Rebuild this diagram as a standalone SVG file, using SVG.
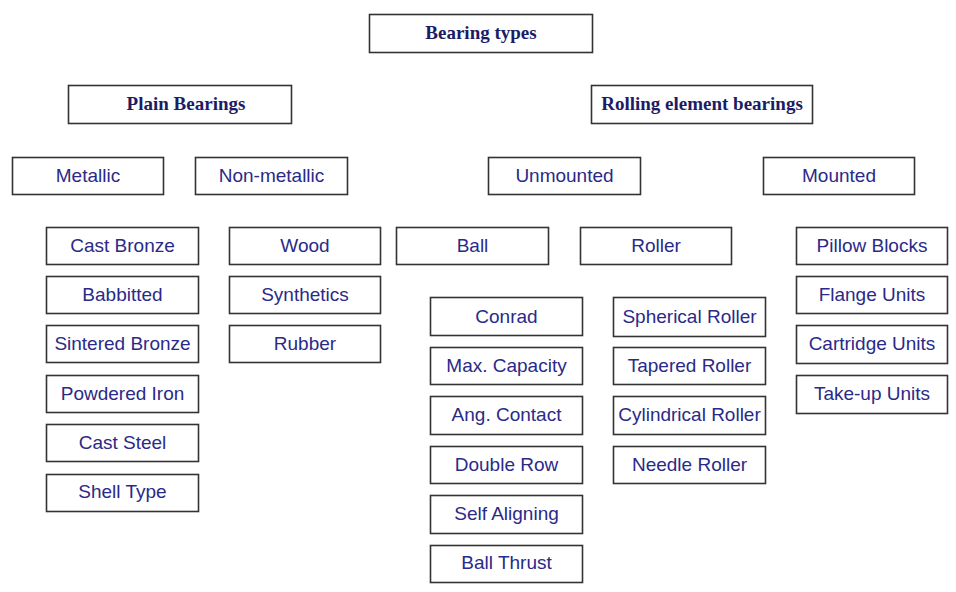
<svg xmlns="http://www.w3.org/2000/svg" width="956" height="592" viewBox="0 0 956 592">
<style>
rect{fill:#fff;stroke:#333;stroke-width:1.6}
.t{font-family:"Liberation Serif","Times New Roman",serif;font-weight:bold;font-size:19px;fill:#1c1c66;text-anchor:middle}
.n{font-family:"Liberation Sans",Arial,sans-serif;font-size:19px;fill:#2a2a88;text-anchor:middle}
</style>
<rect x="0" y="0" width="956" height="592" style="fill:#fff;stroke:none"/>
<g id="bearing-types"><rect x="369.5" y="14.5" width="223" height="38"/><text class="t" x="481" y="39">Bearing types</text></g>
<g id="plain-bearings"><rect x="68.5" y="85.5" width="223" height="38"/><text class="t" x="186" y="110">Plain Bearings</text></g>
<g id="rolling-element-bearings"><rect x="591.5" y="85.5" width="221" height="38"/><text class="t" x="702" y="110">Rolling element bearings</text></g>
<g id="metallic"><rect x="12.5" y="157.5" width="151" height="37"/><text class="n" x="88" y="182">Metallic</text></g>
<g id="non-metallic"><rect x="195.5" y="157.5" width="152" height="37"/><text class="n" x="271.5" y="182">Non-metallic</text></g>
<g id="unmounted"><rect x="488.5" y="157.5" width="152" height="37"/><text class="n" x="564.5" y="182">Unmounted</text></g>
<g id="mounted"><rect x="763.5" y="157.5" width="151" height="37"/><text class="n" x="839" y="182">Mounted</text></g>
<g id="cast-bronze"><rect x="46.5" y="227.5" width="152" height="37"/><text class="n" x="122.5" y="252">Cast Bronze</text></g>
<g id="babbitted"><rect x="46.5" y="276.5" width="152" height="37"/><text class="n" x="122.5" y="301">Babbitted</text></g>
<g id="sintered-bronze"><rect x="46.5" y="325.5" width="152" height="37"/><text class="n" x="122.5" y="350">Sintered Bronze</text></g>
<g id="powdered-iron"><rect x="46.5" y="375.5" width="152" height="37"/><text class="n" x="122.5" y="400">Powdered Iron</text></g>
<g id="cast-steel"><rect x="46.5" y="424.5" width="152" height="37"/><text class="n" x="122.5" y="449">Cast Steel</text></g>
<g id="shell-type"><rect x="46.5" y="474.5" width="152" height="37"/><text class="n" x="122.5" y="498">Shell Type</text></g>
<g id="wood"><rect x="229.5" y="227.5" width="151" height="37"/><text class="n" x="305" y="252">Wood</text></g>
<g id="synthetics"><rect x="229.5" y="276.5" width="151" height="37"/><text class="n" x="305" y="301">Synthetics</text></g>
<g id="rubber"><rect x="229.5" y="325.5" width="151" height="37"/><text class="n" x="305" y="350">Rubber</text></g>
<g id="ball"><rect x="396.5" y="227.5" width="152" height="37"/><text class="n" x="472.5" y="252">Ball</text></g>
<g id="roller"><rect x="580.5" y="227.5" width="151" height="37"/><text class="n" x="656" y="252">Roller</text></g>
<g id="pillow-blocks"><rect x="796.5" y="227.5" width="151" height="37"/><text class="n" x="872" y="252">Pillow Blocks</text></g>
<g id="flange-units"><rect x="796.5" y="276.5" width="151" height="37"/><text class="n" x="872" y="301">Flange Units</text></g>
<g id="cartridge-units"><rect x="796.5" y="325.5" width="151" height="38"/><text class="n" x="872" y="350">Cartridge Units</text></g>
<g id="take-up-units"><rect x="796.5" y="375.5" width="151" height="38"/><text class="n" x="872" y="400">Take-up Units</text></g>
<g id="conrad"><rect x="430.5" y="297.5" width="152" height="38"/><text class="n" x="506.5" y="323">Conrad</text></g>
<g id="max-capacity"><rect x="430.5" y="347.5" width="152" height="37"/><text class="n" x="506.5" y="372">Max. Capacity</text></g>
<g id="ang-contact"><rect x="430.5" y="396.5" width="152" height="38"/><text class="n" x="506.5" y="421">Ang. Contact</text></g>
<g id="double-row"><rect x="430.5" y="446.5" width="152" height="37"/><text class="n" x="506.5" y="471">Double Row</text></g>
<g id="self-aligning"><rect x="430.5" y="495.5" width="152" height="38"/><text class="n" x="506.5" y="520">Self Aligning</text></g>
<g id="ball-thrust"><rect x="430.5" y="545.5" width="152" height="37"/><text class="n" x="506.5" y="569">Ball Thrust</text></g>
<g id="spherical-roller"><rect x="613.5" y="297.5" width="152" height="39"/><text class="n" x="689.5" y="323">Spherical Roller</text></g>
<g id="tapered-roller"><rect x="613.5" y="347.5" width="152" height="37"/><text class="n" x="689.5" y="372">Tapered Roller</text></g>
<g id="cylindrical-roller"><rect x="613.5" y="396.5" width="152" height="38"/><text class="n" x="689.5" y="421">Cylindrical Roller</text></g>
<g id="needle-roller"><rect x="613.5" y="446.5" width="152" height="37"/><text class="n" x="689.5" y="471">Needle Roller</text></g>
<g id="connectors"></g>
</svg>
